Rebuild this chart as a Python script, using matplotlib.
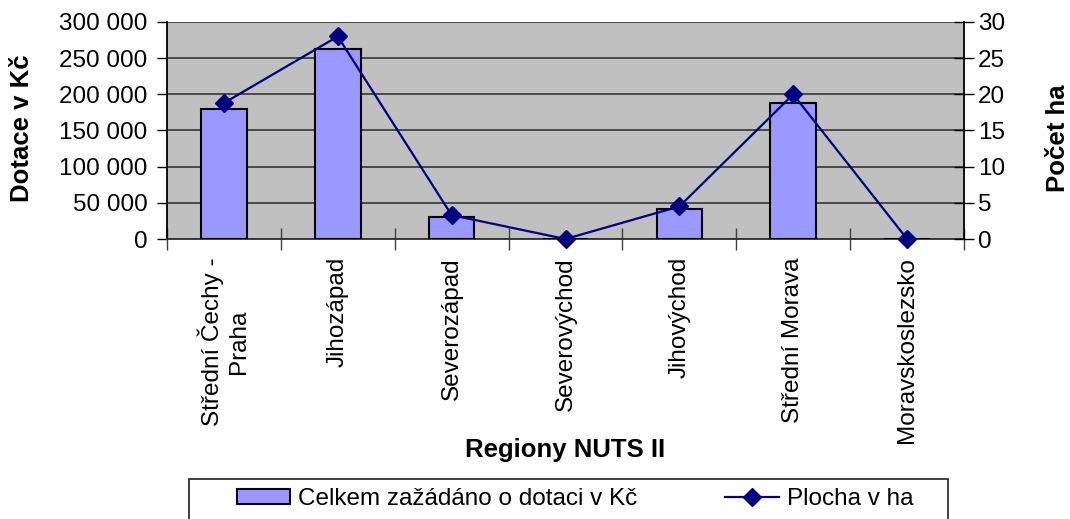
import numpy as np
import matplotlib
matplotlib.use("Agg")
import matplotlib.pyplot as plt
from matplotlib.ticker import FuncFormatter, FixedLocator
from matplotlib.patches import Rectangle

plt.rcParams['font.family'] = ['Liberation Sans', 'DejaVu Sans']

regiony = ['Střední Čechy -\nPraha', 'Jihozápad', 'Severozápad', 'Severovýchod',
           'Jihovýchod', 'Střední Morava', 'Moravskoslezsko']
dotace = [180000, 263000, 31000, 0, 41500, 188500, 0]
plocha = [18.8, 28.0, 3.3, 0.0, 4.5, 20.0, 0.0]

W, H = 1070, 519
fig = plt.figure(figsize=(W / 100, H / 100), dpi=100)
ax = fig.add_axes([167 / W, 1 - 239 / H, (964 - 167) / W, 217 / H])
ax.set_facecolor('#C0C0C0')

x = np.arange(len(regiony))
bars = ax.bar(x, dotace, width=0.4, color='#9999FF', edgecolor='black', linewidth=1.5,
              zorder=3, label='Celkem zažádáno o dotaci v Kč')

ax.set_xlim(-0.5, len(regiony) - 0.5)
ax.set_ylim(0, 300000)
ax.set_yticks(np.arange(0, 300001, 50000))
ax.yaxis.set_major_formatter(FuncFormatter(lambda v, p: f'{int(v):,}'.replace(',', ' ')))
ax.yaxis.grid(True, color='#404040', linewidth=1.3)
ax.set_axisbelow(True)

# hranice kategorii jako hlavni ticky, popisky uprostred
ax.xaxis.set_major_locator(FixedLocator(np.arange(-0.5, len(regiony), 1.0)))
ax.xaxis.set_minor_locator(FixedLocator(x))
ax.set_xticklabels([], minor=False)
ax.set_xticklabels(regiony, minor=True, rotation=90, ha='center', va='top',
                   multialignment='center')
ax.tick_params(axis='x', which='major', direction='inout', length=16, width=1, color='#404040')
ax.tick_params(axis='x', which='minor', length=0, pad=13, labelsize=17.5)
ax.tick_params(axis='y', direction='out', length=7, width=1, pad=7, labelsize=17.5)

for s in ['top', 'right']:
    ax.spines[s].set_visible(False)
for s in ['left', 'bottom']:
    ax.spines[s].set_linewidth(1.3)
ax.spines['bottom'].set_color('#303030')

ax2 = ax.twinx()
ax2.plot(x, plocha, color='#000080', marker='D', markersize=9, linewidth=1.6,
         clip_on=False, zorder=5, label='Plocha v ha')
ax2.set_ylim(0, 30)
ax2.set_yticks(np.arange(0, 31, 5))
ax2.tick_params(axis='y', direction='inout', length=14, width=1, pad=3, labelsize=17.5)
for s in ['top', 'left', 'bottom']:
    ax2.spines[s].set_visible(False)
ax2.spines['right'].set_linewidth(1.3)

fig.text(22 / W, 1 - 128 / H, 'Dotace v Kč', rotation=90, ha='center', va='center',
         fontsize=18.5, fontweight='bold')
fig.text(1058 / W, 1 - 138 / H, 'Počet ha', rotation=90, ha='center', va='center',
         fontsize=18.5, fontweight='bold')
fig.text(565 / W, 1 - 450 / H, 'Regiony NUTS II', ha='center', va='center',
         fontsize=18.5, fontweight='bold')

# ramecek legendy
fig.patches.append(Rectangle((189 / W, -0.05), (948 - 189) / W, 0.05 + 1 - 479 / H,
                             transform=fig.transFigure, fill=False,
                             edgecolor='#202020', linewidth=1.2))

handles = [bars, ax2.lines[0]]
fig.legend(handles, [h.get_label() for h in handles], loc='upper left',
           bbox_to_anchor=(237 / W, 1 - 488 / H), frameon=False, ncol=2,
           fontsize=17.5, handlelength=2.2, handleheight=0.6, handletextpad=0.33,
           columnspacing=3.6, borderpad=0, borderaxespad=0)

fig.savefig('out.png', dpi=100)
